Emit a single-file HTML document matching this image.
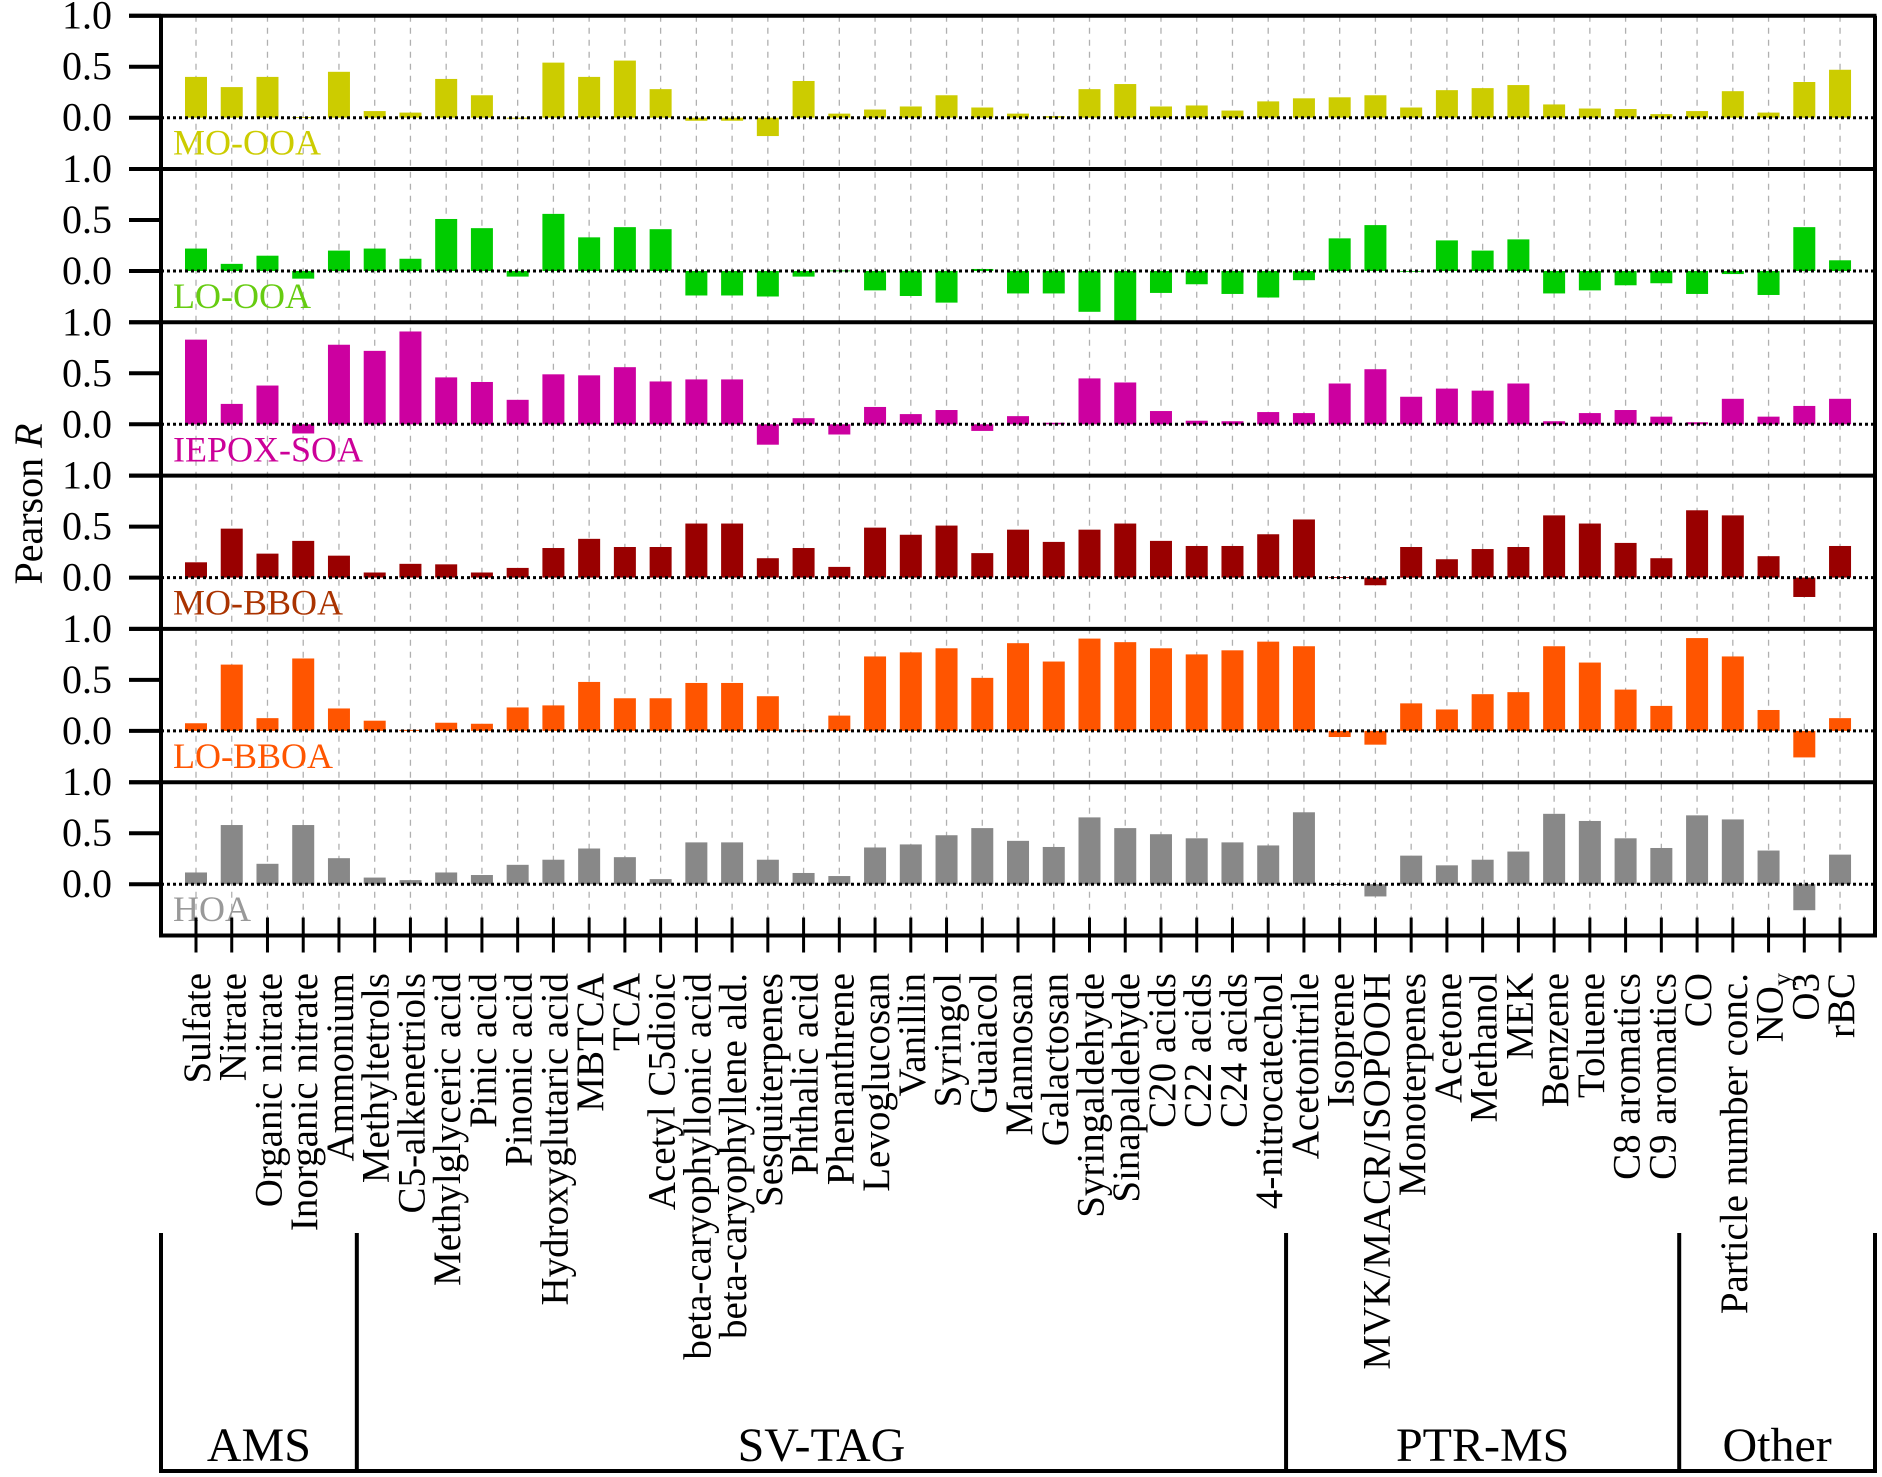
<!DOCTYPE html>
<html><head><meta charset="utf-8">
<style>
html,body{margin:0;padding:0;background:#fff;}
svg{display:block;font-family:"Liberation Serif","Times New Roman",serif;}
</style></head>
<body>
<svg id="chart" width="1882" height="1477" viewBox="0 0 1882 1477" xmlns="http://www.w3.org/2000/svg"></svg>
<script>
const categories = ["Sulfate","Nitrate","Organic nitrate","Inorganic nitrate","Ammonium","Methyltetrols","C5-alkenetriols","Methylglyceric acid","Pinic acid","Pinonic acid","Hydroxyglutaric acid","MBTCA","TCA","Acetyl C5dioic","beta-caryophyllonic acid","beta-caryophyllene ald.","Sesquiterpenes","Phthalic acid","Phenanthrene","Levoglucosan","Vanillin","Syringol","Guaiacol","Mannosan","Galactosan","Syringaldehyde","Sinapaldehyde","C20 acids","C22 acids","C24 acids","4-nitrocatechol","Acetonitrile","Isoprene","MVK/MACR/ISOPOOH","Monoterpenes","Acetone","Methanol","MEK","Benzene","Toluene","C8 aromatics","C9 aromatics","CO","Particle number conc.","NOy","O3","rBC"];
const factorNames = ["MO-OOA","LO-OOA","IEPOX-SOA","MO-BBOA","LO-BBOA","HOA"];
const moOOA = [0.40,0.30,0.40,0.005,0.45,0.065,0.05,0.38,0.22,-0.01,0.54,0.40,0.56,0.28,-0.03,-0.03,-0.18,0.36,0.04,0.08,0.11,0.22,0.10,0.04,0.015,0.28,0.33,0.11,0.12,0.07,0.16,0.19,0.20,0.22,0.10,0.27,0.29,0.32,0.13,0.09,0.085,0.035,0.065,0.26,0.05,0.35,0.47];
const loOOA = [0.22,0.07,0.15,-0.075,0.20,0.22,0.12,0.51,0.42,-0.055,0.56,0.33,0.43,0.41,-0.24,-0.24,-0.25,-0.055,0.005,-0.19,-0.245,-0.31,0.02,-0.22,-0.22,-0.40,-0.50,-0.215,-0.13,-0.225,-0.26,-0.09,0.32,0.45,0,0.30,0.20,0.31,-0.22,-0.19,-0.14,-0.12,-0.225,-0.03,-0.235,0.43,0.105];
const iepoxSOA = [0.83,0.20,0.38,-0.09,0.78,0.72,0.91,0.46,0.415,0.24,0.49,0.48,0.56,0.42,0.44,0.44,-0.20,0.06,-0.10,0.17,0.10,0.14,-0.065,0.08,0.015,0.45,0.41,0.13,0.035,0.03,0.12,0.11,0.40,0.54,0.27,0.35,0.33,0.40,0.03,0.11,0.14,0.075,0.02,0.25,0.075,0.18,0.25];
const moBBOA = [0.15,0.48,0.235,0.36,0.215,0.05,0.135,0.13,0.05,0.095,0.29,0.38,0.30,0.30,0.53,0.53,0.19,0.29,0.105,0.49,0.42,0.51,0.24,0.47,0.35,0.47,0.53,0.36,0.31,0.31,0.425,0.57,0.005,-0.075,0.30,0.18,0.28,0.30,0.61,0.53,0.34,0.19,0.66,0.61,0.21,-0.19,0.31];
const loBBOA = [0.075,0.65,0.125,0.71,0.22,0.10,0.01,0.08,0.07,0.23,0.25,0.48,0.32,0.32,0.47,0.47,0.34,0.005,0.15,0.73,0.77,0.81,0.52,0.86,0.68,0.905,0.87,0.81,0.75,0.79,0.875,0.83,-0.06,-0.135,0.27,0.21,0.36,0.38,0.83,0.67,0.405,0.245,0.91,0.73,0.205,-0.26,0.125];
const hoa = [0.115,0.58,0.20,0.58,0.255,0.065,0.04,0.115,0.09,0.19,0.24,0.35,0.265,0.05,0.41,0.41,0.24,0.11,0.08,0.36,0.39,0.48,0.55,0.425,0.365,0.655,0.55,0.49,0.45,0.41,0.38,0.705,0,-0.12,0.28,0.185,0.24,0.32,0.69,0.62,0.45,0.355,0.675,0.635,0.33,-0.255,0.29];
const yTickValues = [1.0,0.5,0.0];
const yTickLabels = ["1.0","0.5","0.0"];
const groupNames = ["AMS","SV-TAG","PTR-MS","Other"];
const groupSizes = [5,26,11,5];

const seriesList = [moOOA, loOOA, iepoxSOA, moBBOA, loBBOA, hoa];
const barColors = ["#cccc00","#00cc00","#cc00a0","#990000","#ff5500","#888888"];
const labelColors = ["#cccc00","#66cc11","#cc0099","#aa3300","#ff5500","#999999"];

const NS = "http://www.w3.org/2000/svg";
const svg = document.getElementById("chart");
function mk(tag, attrs, parent){
  const e = document.createElementNS(NS, tag);
  for (const k in attrs) e.setAttribute(k, attrs[k]);
  (parent||svg).appendChild(e);
  return e;
}
const plotL = 161, plotR = 1875, plotTop = 15.7, panelH = 153.3, unit = 102;
const x0 = 196, dx = 35.74, barW = 22;
function xPos(i){ return x0 + dx*i; }
function panelTop(p){ return plotTop + panelH*p; }
function yPos(p, v){ return panelTop(p) + (1.0 - v)*unit; }
const plotBottom = panelTop(6);

// grid lines
const grid = mk("g", {});


categories.forEach((c,i)=>{
  const l = mk("line",{x1:xPos(i),x2:xPos(i),y1:plotTop,y2:plotBottom,stroke:"#b0b0b0","stroke-width":1.3,"stroke-dasharray":"6,6"},grid);
  
  
});

// panels
seriesList.forEach((vals,p)=>{
  const g = mk("g",{});
  
  
  vals.forEach((v,i)=>{
    const y0 = yPos(p,0), y1 = yPos(p,v);
    const r = mk("rect",{x:xPos(i)-barW/2,y:Math.min(y0,y1),width:barW,height:Math.max(Math.abs(y1-y0),0.8),fill:barColors[p]},g);
    
    
  });
  const z = mk("line",{x1:plotL,x2:plotR,y1:yPos(p,0),y2:yPos(p,0),stroke:"#000","stroke-width":3,"stroke-dasharray":"3,3"},g);
  
  
  const t = mk("text",{x:173,y:yPos(p,0)+37,"font-size":36,fill:labelColors[p]},g);
  t.textContent = factorNames[p];
  
  
  // top border
  const b = mk("line",{x1:129,x2:plotR+1.5,y1:panelTop(p),y2:panelTop(p),stroke:"#000","stroke-width":4},g);
  
  
  yTickValues.forEach((tv,k)=>{
    const ty = yPos(p,tv);
    const tl = mk("line",{x1:129,x2:plotL,y1:ty,y2:ty,stroke:"#000","stroke-width":4},g);
    
    
    const tt = mk("text",{x:112,y:ty+13,"font-size":40,"text-anchor":"end",fill:"#000"},g);
    tt.textContent = yTickLabels[k];
    
    
  });
});

// frame
const fr = mk("path",{d:`M${plotL} ${plotTop} V${plotBottom} H${plotR} V${plotTop}`,fill:"none",stroke:"#000","stroke-width":4});



// x ticks and labels
categories.forEach((c,i)=>{
  const tk = mk("line",{x1:xPos(i),x2:xPos(i),y1:plotBottom-18,y2:plotBottom+17,stroke:"#000","stroke-width":3});
  
  
  const tx = xPos(i)+14, ty = 973;
  const t = mk("text",{x:tx,y:ty,"font-size":39,"text-anchor":"end",transform:`rotate(-90 ${tx} ${ty})`,fill:"#000"});
  if (c === "NOy"){
    t.appendChild(document.createTextNode("NO"));
    const s = mk("tspan",{"font-size":26,dy:8},t);
    s.textContent = "y";
  } else {
    t.textContent = c;
  }
  
  
});

// y-axis title
const yt = mk("text",{x:42,y:504,"font-size":40,"text-anchor":"middle",transform:"rotate(-90 42 504)",fill:"#000"});
yt.appendChild(document.createTextNode("Pearson "));
const it = mk("tspan",{"font-style":"italic"},yt);
it.textContent = "R";



// group brackets
const gg = mk("g",{});


const gTop = 1233, gBot = 1471;
let start = 0;
const bounds = [plotL];
groupSizes.forEach((n)=>{ start += n; bounds.push(start < categories.length ? (xPos(start-1)+xPos(start))/2 : plotR); });
bounds.forEach(bx=>{
  const l = mk("line",{x1:bx,x2:bx,y1:gTop,y2:gBot+2,stroke:"#000","stroke-width":4},gg);
  
  
});
const bl = mk("line",{x1:plotL-2,x2:plotR+2,y1:gBot,y2:gBot,stroke:"#000","stroke-width":4},gg);


groupNames.forEach((n,k)=>{
  const t = mk("text",{x:(bounds[k]+bounds[k+1])/2,y:1461,"font-size":48,"text-anchor":"middle",fill:"#000"},gg);
  t.textContent = n;
  
  
});
</script>
</body></html>
